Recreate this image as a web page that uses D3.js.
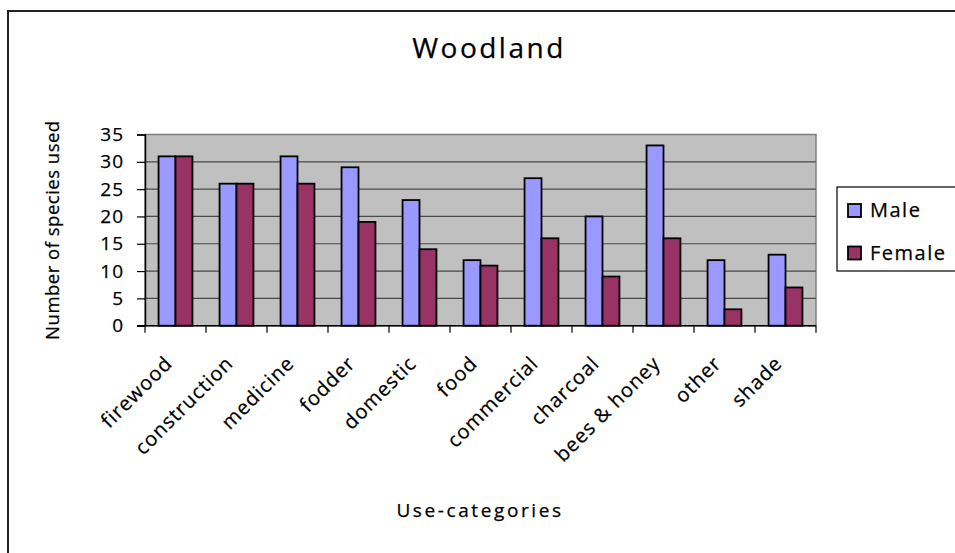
<!DOCTYPE html>
<html>
<head>
<meta charset="utf-8">
<script src="https://cdn.jsdelivr.net/npm/d3@7"></script>
<style>
  body { margin: 0; background: #fff; }
  text { font-family: "Open Sans", "DejaVu Sans", sans-serif; fill: #000; stroke: #000; stroke-width: 0.25px; }
</style>
</head>
<body>
<div id="chart"></div>
<script>
// chart data
const categories = ["firewood", "construction", "medicine", "fodder", "domestic", "food",
  "commercial", "charcoal", "bees & honey", "other", "shade"];
const male = [31, 26, 31, 29, 23, 12, 27, 20, 33, 12, 13];
const female = [31, 26, 26, 19, 14, 11, 16, 9, 16, 3, 7];
const seriesNames = ["Male", "Female"];
const yTicks = [0, 5, 10, 15, 20, 25, 30, 35];

const WIDTH = 955, HEIGHT = 553;
const plot = {left: 145, right: 816, top: 134.5, bottom: 325.7};
const colors = {Male: "#9999ff", Female: "#993366"};

let svg = d3.select("#chart")
  .append("svg")
  .attr("width", WIDTH)
  .attr("height", HEIGHT);

svg.append("rect").attr("width", WIDTH).attr("height", HEIGHT).attr("fill", "#fff");

// outer chart border (runs off the right and bottom)
svg.append("rect")
  .attr("x", 8).attr("y", 11)
  .attr("width", 1000).attr("height", 600)
  .attr("fill", "none").attr("stroke", "#222").attr("stroke-width", 2);

let x = d3.scaleBand().domain(categories).range([plot.left, plot.right]).padding(0);
let xs = d3.scaleBand().domain(seriesNames).range([0, x.bandwidth()]).paddingInner(0).paddingOuter(0.8);
let y = d3.scaleLinear().domain([0, 35]).range([plot.bottom, plot.top]);

// plot background
svg.append("rect")
  .attr("x", plot.left).attr("y", plot.top)
  .attr("width", plot.right - plot.left).attr("height", plot.bottom - plot.top)
  .attr("fill", "#c0c0c0").attr("stroke", "#808080").attr("stroke-width", 1.5);

// gridlines
svg.append("g").selectAll("line")
  .data(yTicks.filter(d => d > 0 && d < 35))
  .enter().append("line")
  .attr("x1", plot.left).attr("x2", plot.right)
  .attr("y1", d => y(d)).attr("y2", d => y(d))
  .attr("stroke", "#4a4a4a").attr("stroke-width", 1.2);

// bars
let rows = categories.map((c, i) => ({cat: c, Male: male[i], Female: female[i]}));
let groups = svg.append("g").selectAll("g")
  .data(rows)
  .enter().append("g")
  .attr("transform", d => `translate(${x(d.cat)},0)`);

groups.selectAll("rect")
  .data(d => seriesNames.map(s => ({key: s, value: d[s]})))
  .enter().append("rect")
  .attr("x", d => xs(d.key))
  .attr("y", d => y(d.value))
  .attr("width", xs.bandwidth())
  .attr("height", d => y(0) - y(d.value))
  .attr("fill", d => colors[d.key])
  .attr("stroke", "#000")
  .attr("stroke-width", 1.8);

// y axis
let yAxis = svg.append("g")
  .attr("transform", `translate(${plot.left},0)`)
  .call(d3.axisLeft(y).tickValues(yTicks).tickSize(8).tickPadding(13));
yAxis.select(".domain").attr("stroke", "#000").attr("stroke-width", 1.5);
yAxis.selectAll(".tick line").attr("stroke", "#000").attr("stroke-width", 1.2);
yAxis.selectAll(".tick text")
  .style("font-size", "19px")
  .style("letter-spacing", "1px")
  .attr("fill", "#000");

// x axis
svg.append("line")
  .attr("x1", plot.left - 8).attr("x2", plot.right)
  .attr("y1", plot.bottom).attr("y2", plot.bottom)
  .attr("stroke", "#000").attr("stroke-width", 1.5);

let boundaries = categories.map(c => x(c)).concat([plot.right]);
svg.append("g").selectAll("line")
  .data(boundaries)
  .enter().append("line")
  .attr("x1", d => d).attr("x2", d => d)
  .attr("y1", plot.bottom).attr("y2", plot.bottom + 7)
  .attr("stroke", "#000").attr("stroke-width", 1.2);

svg.append("g").selectAll("text")
  .data(categories)
  .enter().append("text")
  .attr("transform", d => `translate(${x(d) + x.bandwidth() / 2 - 2},${plot.bottom + 39}) rotate(-45)`)
  .style("text-anchor", "end")
  .style("font-size", "20px")
  .style("letter-spacing", "1px")
  .text(d => d);

// titles
svg.append("text")
  .attr("x", 489).attr("y", 58)
  .style("text-anchor", "middle")
  .style("font-size", "28px")
  .style("letter-spacing", "2.5px")
  .text("Woodland");

svg.append("text")
  .attr("transform", `translate(59,${(plot.top + plot.bottom) / 2}) rotate(-90)`)
  .style("text-anchor", "middle")
  .style("font-size", "18.5px")
  .style("letter-spacing", "0.5px")
  .text("Number of species used");

svg.append("text")
  .attr("x", 480).attr("y", 517)
  .style("text-anchor", "middle")
  .style("font-size", "19px")
  .style("letter-spacing", "2.6px")
  .text("Use-categories");

// legend
let legend = svg.append("g").attr("transform", "translate(837,187)");
legend.append("rect")
  .attr("width", 200).attr("height", 84)
  .attr("fill", "#fff").attr("stroke", "#000").attr("stroke-width", 1.2);

let items = legend.selectAll("g.item")
  .data(seriesNames)
  .enter().append("g")
  .attr("class", "item")
  .attr("transform", (d, i) => `translate(11,${17 + i * 42.5})`);

items.append("rect")
  .attr("width", 13).attr("height", 13)
  .attr("fill", d => colors[d])
  .attr("stroke", "#000").attr("stroke-width", 1.8);

items.append("text")
  .attr("x", 22).attr("y", 13)
  .style("font-size", "20px")
  .style("letter-spacing", "1.5px")
  .text(d => d);
</script>
</body>
</html>
